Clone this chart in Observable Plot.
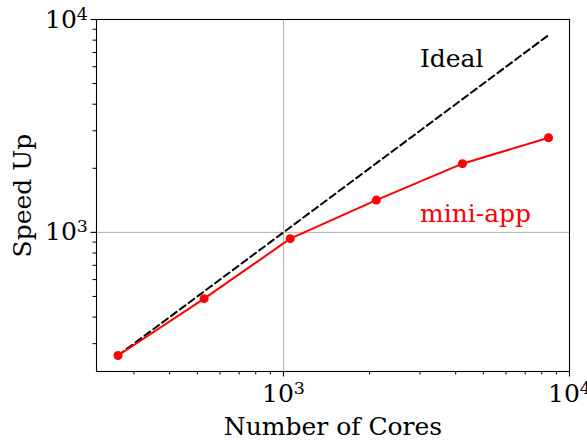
<!DOCTYPE html>
<html><head><meta charset="utf-8">
<script src="https://cdn.jsdelivr.net/npm/d3@7"></script>
<script src="https://cdn.jsdelivr.net/npm/@observablehq/plot@0.6"></script>
<style>
body{margin:0;background:#fff}
svg{display:block}
svg text{font-family:"DejaVu Serif",serif !important;}
</style>
</head><body><div id="chart"></div>
<script>
// Data
const cores = [264, 528, 1056, 2112, 4224, 8448];
const speedUp = [264, 488, 934, 1418, 2102, 2784];
const idealCores = [264, 8448];
const idealSpeedUp = [264, 8448];
const majorTicks = [1000, 10000];
const minorTicks = [300, 400, 500, 600, 700, 800, 900, 2000, 3000, 4000, 5000, 6000, 7000, 8000, 9000];
const seriesNames = ["Ideal", "mini-app"];
const seriesLabelX = [3000, 3000];
const seriesLabelY = [5960, 1114];
const xLabel = "Number of Cores";
const yLabel = "Speed Up";

const mini = cores.map((c, i) => ({c, s: speedUp[i]}));
const ideal = idealCores.map((c, i) => ({c, s: idealSpeedUp[i]}));
const labels = seriesNames.map((t, i) => ({t, x: seriesLabelX[i], y: seriesLabelY[i]}));
const sup = d => "10^" + Math.round(Math.log10(d));
const FS = 25;

const chart = Plot.plot({
  width: 587, height: 442,
  marginLeft: 96, marginTop: 19, marginRight: 18, marginBottom: 71,
  style: {fontFamily: "'DejaVu Serif', serif", fontSize: FS + "px", color: "#000", background: "#fff"},
  x: {type: "log", domain: [222, 10000]},
  y: {type: "log", domain: [222, 10000]},
  marks: [
    Plot.gridX(majorTicks, {stroke: "#b0b0b0", strokeOpacity: 1, strokeWidth: 1}),
    Plot.gridY(majorTicks, {stroke: "#b0b0b0", strokeOpacity: 1, strokeWidth: 1}),
    Plot.axisX(minorTicks, {tickSize: 3.5, tickFormat: () => "", label: null, strokeWidth: 1}),
    Plot.axisY(minorTicks, {tickSize: 3.5, tickFormat: () => "", label: null, strokeWidth: 1}),
    Plot.axisX(majorTicks, {tickSize: 5.5, tickPadding: 7, tickFormat: sup, label: null, fontSize: FS, strokeWidth: 1.1}),
    Plot.axisY(majorTicks, {tickSize: 5.5, tickPadding: 3, tickFormat: sup, label: null, fontSize: FS, strokeWidth: 1.1}),
    Plot.frame({stroke: "#000", strokeWidth: 1.1}),
    Plot.line(ideal, {x: "c", y: "s", stroke: "#000", strokeWidth: 2, strokeDasharray: "7,4"}),
    Plot.line(mini, {x: "c", y: "s", stroke: "#ff0000", strokeWidth: 2}),
    Plot.dot(mini, {x: "c", y: "s", fill: "#ff0000", r: 4.5}),
    Plot.text(labels, {x: "x", y: "y", text: "t", textAnchor: "start", lineAnchor: "bottom", fontSize: FS,
      fill: (d) => d.t === "Ideal" ? "#000" : "#ff0000"}),
    Plot.text([xLabel], {frameAnchor: "bottom", textAnchor: "middle", dy: 63, lineAnchor: "bottom", fontSize: FS, fill: "#000"}),
    Plot.text([yLabel], {frameAnchor: "left", textAnchor: "middle", dx: -74, rotate: -90, lineAnchor: "middle", fontSize: FS, fill: "#000"})
  ]
});

// superscripts for 10^n tick labels
d3.select(chart).selectAll("text").each(function() {
  const m = /^10\^(\d+)$/.exec(this.textContent);
  if (m) {
    const t = d3.select(this);
    t.text("10");
    t.append("tspan").attr("dy", "-0.45em").attr("font-size", "0.7em").text(m[1]);
  }
});
document.getElementById("chart").appendChild(chart);
</script>
</body></html>
